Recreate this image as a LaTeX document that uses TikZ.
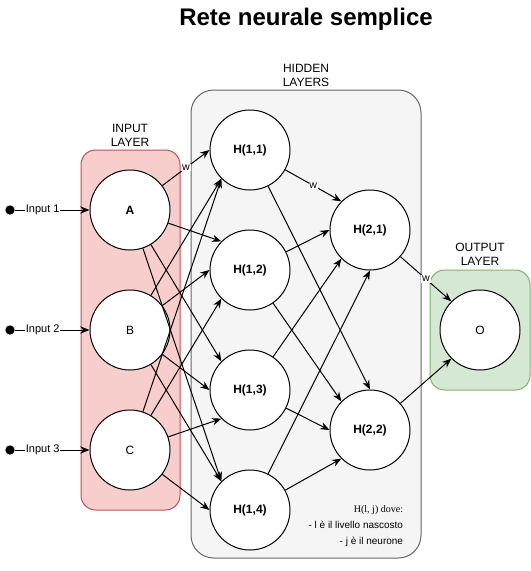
\documentclass[tikz,border=0pt]{standalone}
\usepackage{fontspec}
\setmainfont{Liberation Sans}
\newfontfamily\notefont{Liberation Serif}
\usetikzlibrary{arrows.meta}

\definecolor{inpink}{HTML}{F8CECC}
\definecolor{inred}{HTML}{B85450}
\definecolor{hidfill}{HTML}{F5F5F5}
\definecolor{hidline}{HTML}{666666}
\definecolor{outfill}{HTML}{D5E8D4}
\definecolor{outline}{HTML}{82B366}

\begin{document}
\begin{tikzpicture}
  [x=0.75pt,y=-0.75pt,line width=0.75pt,
   neuron/.style={circle,draw,fill=white,minimum size=60pt,inner sep=0pt,font=\fontsize{9pt}{11pt}\selectfont},
   arr/.style={-{Stealth[length=7pt,width=5.5pt]}},
   wlab/.style={fill=white,inner sep=0.6pt,font=\fontsize{8pt}{9pt}\selectfont},
   inlab/.style={fill=white,inner sep=0.6pt,font=\fontsize{8.25pt}{9pt}\selectfont},
   laylab/.style={align=center,font=\fontsize{9pt}{10.5pt}\selectfont},
   dot/.style={circle,fill=black,minimum size=7pt,inner sep=0pt}]
  \useasboundingbox (0,0) rectangle (531,571);

  \node[font=\bfseries\fontsize{18pt}{21pt}\selectfont] (title) at (306,19) {Rete neurale semplice};

  % layers
  \draw[draw=inred,fill=inpink,rounded corners=11pt] (81,150) rectangle (180,510);
  \draw[draw=hidline,fill=hidfill,rounded corners=17pt] (191,90) rectangle (421,558);
  \draw[draw=outline,fill=outfill,rounded corners=11pt] (430,270) rectangle (530,390);
  \node[laylab] (inlayer) at (130,135) {INPUT\\LAYER};
  \node[laylab] (hidlayer) at (306,75) {HIDDEN\\LAYERS};
  \node[laylab] (outlayer) at (480,254.5) {OUTPUT\\LAYER};

  % neurons
  \node[neuron] (A) at (130,210) {\textbf{A}};
  \node[neuron] (B) at (130,330) {B};
  \node[neuron] (C) at (130,450) {C};
  \node[neuron] (h11) at (250,150) {\textbf{H(1,1)}};
  \node[neuron] (h12) at (250,270) {\textbf{H(1,2)}};
  \node[neuron] (h13) at (250,390) {\textbf{H(1,3)}};
  \node[neuron] (h14) at (250,510) {\textbf{H(1,4)}};
  \node[neuron] (h21) at (370,230) {\textbf{H(2,1)}};
  \node[neuron] (h22) at (370,430) {\textbf{H(2,2)}};
  \node[neuron] (o) at (480,330) {O};

  % inputs
  \node[dot] (in1) at (10,210) {};
  \node[dot] (in2) at (10,330) {};
  \node[dot] (in3) at (10,450) {};
  \draw[arr] (in1) -- node[inlab,pos=0.37] (lab1) {Input 1} (A.west);
  \draw[arr] (in2) -- node[inlab,pos=0.37] (lab2) {Input 2} (B.west);
  \draw[arr] (in3) -- node[inlab,pos=0.37] (lab3) {Input 3} (C.west);

  % weights
  \draw[arr] (A) -- node[wlab] (w1) {w} (h11.west);
  \draw[arr] (h11) -- node[wlab] (w2) {w} (h21.north west);
  \draw[arr] (h21) -- node[wlab] (w3) {w} (o.north west);

  \foreach \from/\to in {B/h11.south west,C/h11.south west,
      A/h12.north west,B/h12.west,C/h12.south west,
      A/h13.north west,B/h13.west,C/h13.south west,
      A/h14.north west,B/h14.north west,C/h14.west,
      h12/h21.west,h13/h21.south west,h14/h21.south,
      h11/h22.north,h12/h22.north west,h13/h22.west,h14/h22.south west,
      h22/o.south west}
    \draw[arr] (\from) -- (\to);

  \node[align=right,anchor=north east,font=\fontsize{7.5pt}{12pt}\selectfont] (note) at (408,501)
    {{\notefont H(l, j) dove:}\\- l è il livello nascosto\\- j è il neurone};

\end{tikzpicture}
\end{document}
